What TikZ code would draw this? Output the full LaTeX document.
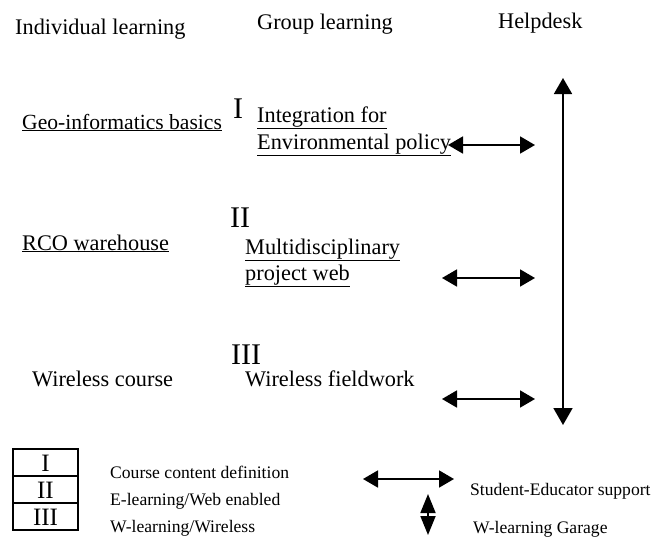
\documentclass[tikz,border=0pt]{standalone}
\usepackage{fontspec}
\setmainfont{Liberation Serif}
\usetikzlibrary{arrows.meta}
\begin{document}
\begin{tikzpicture}[x=1pt,y=-1pt,
  lbl/.style={anchor=base west,inner sep=0pt,font=\fontsize{22.3}{26}\selectfont},
  lbls/.style={anchor=base west,inner sep=0pt,font=\fontsize{17.6}{21}\selectfont},
  num/.style={anchor=base west,inner sep=0pt,font=\fontsize{30}{32}\selectfont},
  boxnum/.style={inner sep=0pt,font=\fontsize{25}{27}\selectfont},
  dbl/.style={line width=1.8pt,{Triangle[length=15pt,width=17pt]}-{Triangle[length=15pt,width=17pt]}},
  vdbl/.style={line width=1.8pt,{Triangle[length=16pt,width=18pt]}-{Triangle[length=17pt,width=19pt]}}]
\useasboundingbox (0,0) rectangle (669,536);
% headers
\node[lbl] (hind) at (15,34) {Individual learning};
\node[lbl] (hgrp) at (257,29) {Group learning};
\node[lbl] (hhelp) at (498,28) {Helpdesk};
% row I
\node[lbl,font=\fontsize{21.6}{26}\selectfont] (geo) at (22,129) {\underline{Geo-informatics basics}};
\node[num] (n1) at (233,118) {I};
\node[lbl] (int1) at (257,122) {\underline{Integration for}};
\node[lbl] (int2) at (257,149) {\underline{Environmental policy}};
% row II
\node[num] (n2) at (230,227) {II};
\node[lbl] (rco) at (22,250) {\underline{RCO warehouse}};
\node[lbl] (mul1) at (245,254) {\underline{Multidisciplinary}};
\node[lbl] (mul2) at (245,280) {\underline{project web}};
% row III
\node[num] (n3) at (231,364) {III};
\node[lbl] (wc) at (32,386) {Wireless course};
\node[lbl] (wf) at (245,386) {Wireless fieldwork};
% arrows
\coordinate (a1l) at (448,145); \coordinate (a1r) at (535,145);
\coordinate (a2l) at (442,278); \coordinate (a2r) at (535,278);
\coordinate (a3l) at (442,399); \coordinate (a3r) at (535,399);
\draw[dbl] (a1l) -- (a1r);
\draw[dbl] (a2l) -- (a2r);
\draw[dbl] (a3l) -- (a3r);
\coordinate (vt) at (563,78); \coordinate (vb) at (563,425);
\draw[vdbl] (vt) -- (vb);
% legend
\draw[line width=1.3pt] (13,449) rectangle (78,530);
\draw[line width=1.3pt] (13,476) -- (78,476);
\draw[line width=1.3pt] (13,503) -- (78,503);
\node[boxnum] (b1) at (45.5,463) {I};
\node[boxnum] (b2) at (45.5,490) {II};
\node[boxnum] (b3) at (45.5,517) {III};
\node[lbls] (l1) at (110,478) {Course content definition};
\node[lbls] (l2) at (110,505) {E-learning/Web enabled};
\node[lbls] (l3) at (110,532) {W-learning/Wireless};
\coordinate (lhl) at (363,479); \coordinate (lhr) at (454,479);
\draw[dbl] (lhl) -- (lhr);
\node[lbls] (l4) at (470,495) {Student-Educator support};
\coordinate (lvt) at (428,494); \coordinate (lvb) at (428,535);
\draw[line width=1.8pt,{Triangle[length=19pt,width=15pt]}-{Triangle[length=19pt,width=15pt]}] (lvt) -- (lvb);
\node[lbls] (l5) at (473,533) {W-learning Garage};
\end{tikzpicture}
\end{document}
